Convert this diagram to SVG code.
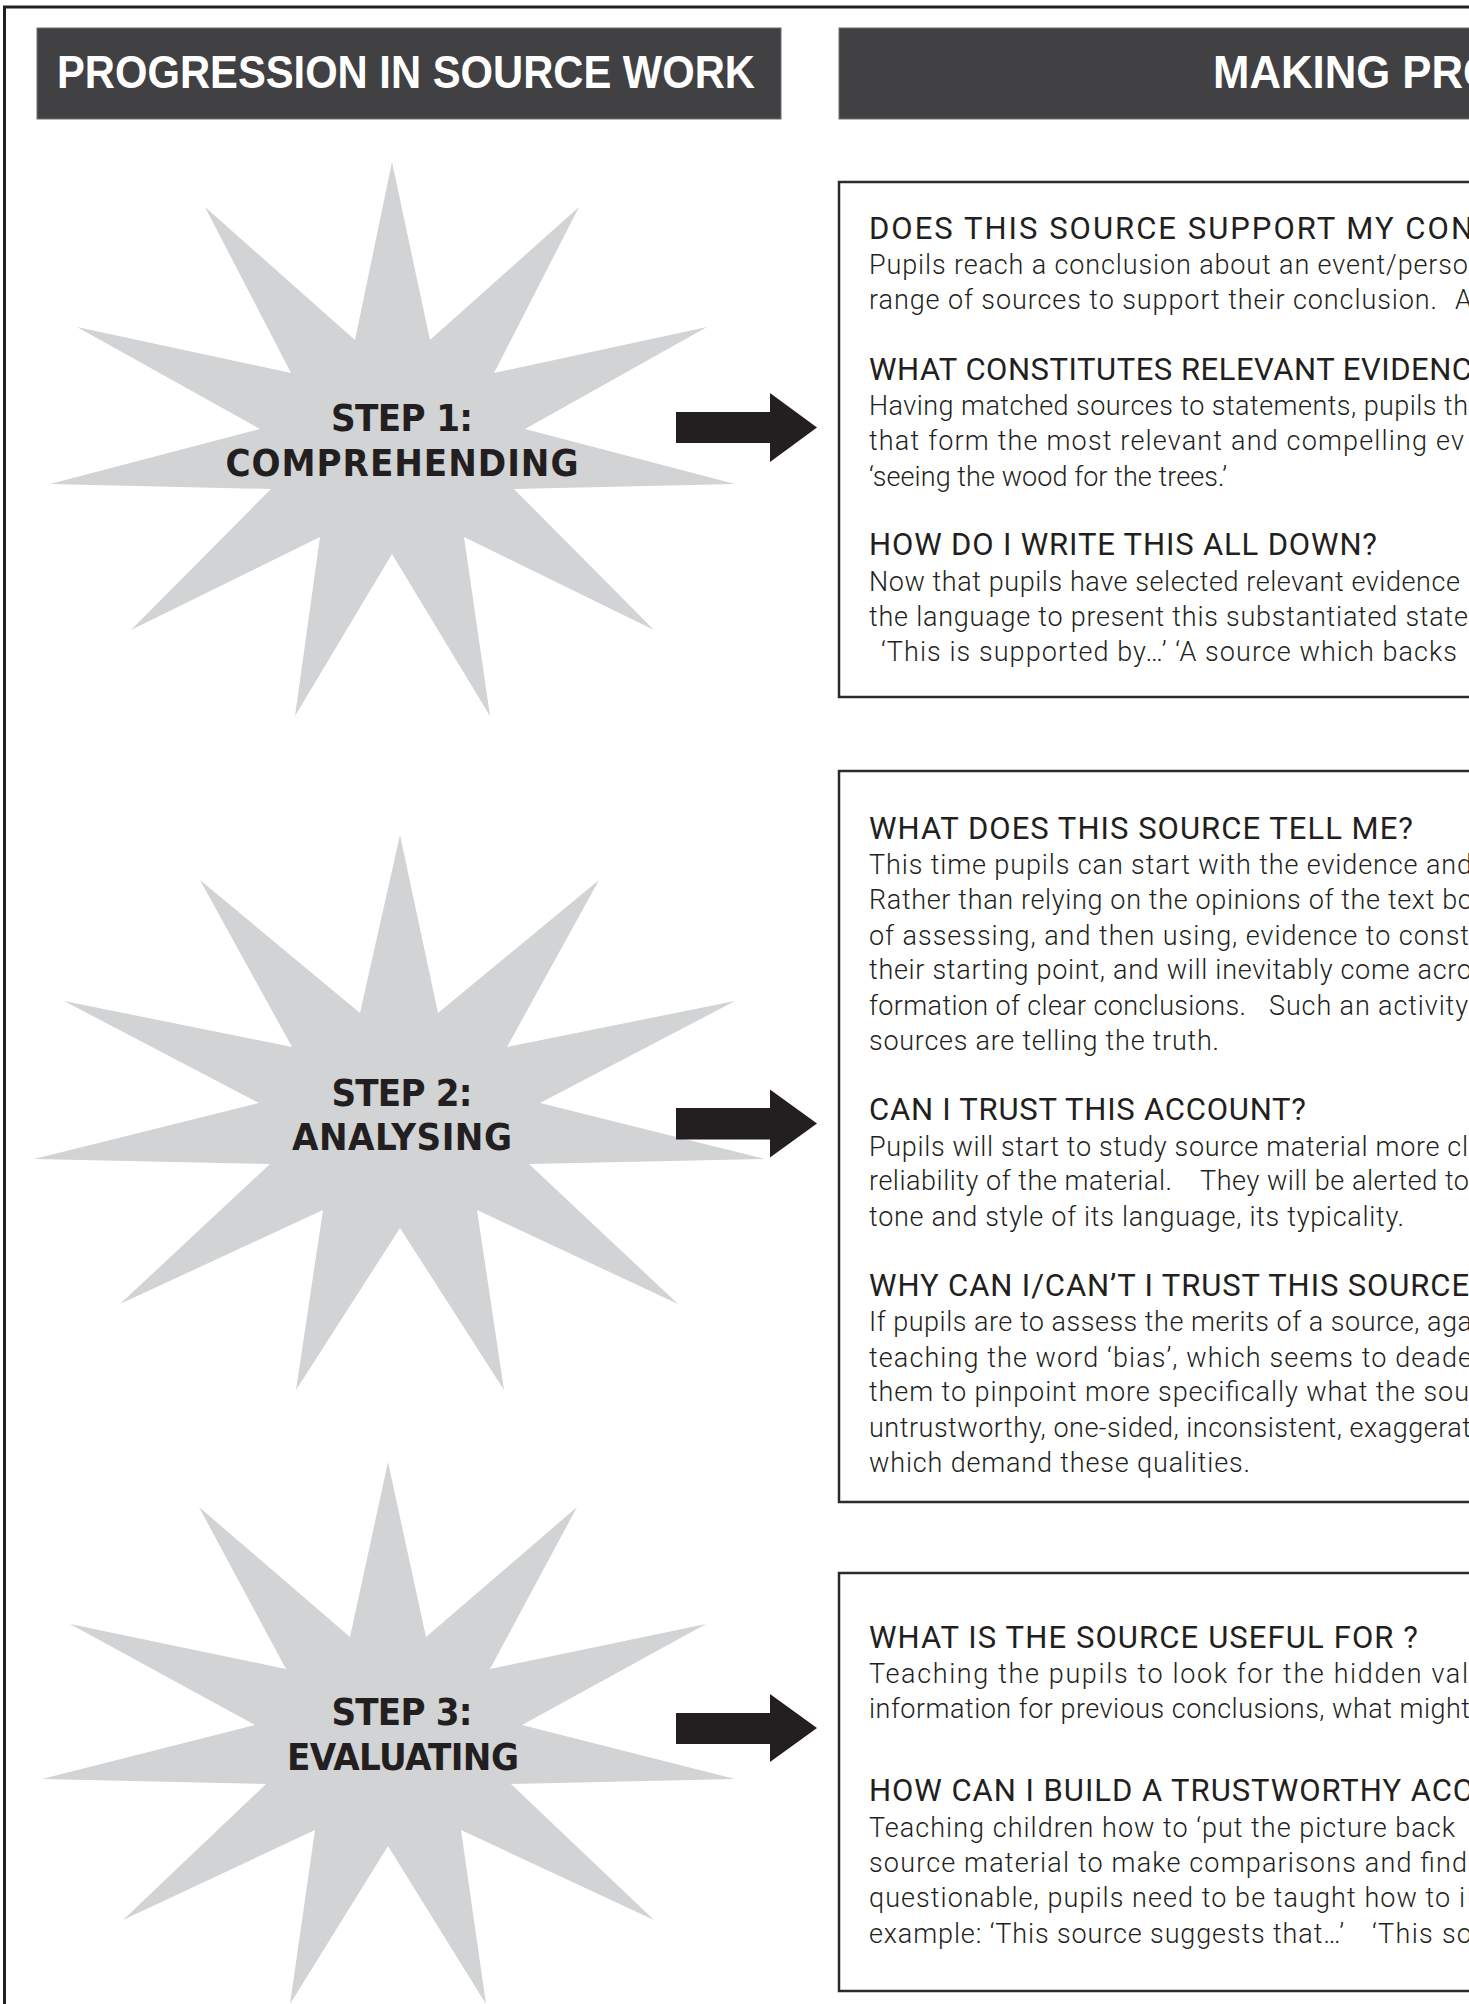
<svg xmlns="http://www.w3.org/2000/svg" width="1469" height="2004" viewBox="0 0 1469 2004">
<style>
.frame{fill:none;stroke:#231f20;stroke-width:3}
.hdr{fill:#414042;stroke:#6d6e71;stroke-width:1}
.hdrt{font-family:'Liberation Sans','Arial',sans-serif;font-weight:bold;font-size:46px;fill:#ffffff}
.star{fill:#d1d3d4}
.lbl{font-family:'DejaVu Sans Condensed','DejaVu Sans',sans-serif;font-weight:bold;font-size:38px;fill:#231f20;text-anchor:middle}
.box{fill:#ffffff;stroke:#2b2b2b;stroke-width:2.5}
.h{font-family:'Roboto','DejaVu Sans Condensed',sans-serif;font-weight:400;font-size:31px;fill:#231f20}
.b{font-family:'Roboto','DejaVu Sans Condensed',sans-serif;font-weight:300;font-size:27px;fill:#231f20}
.arrow{fill:#231f20}
</style>
<rect x="0" y="0" width="1469" height="2004" fill="#ffffff"/>
<rect class="frame" x="4.5" y="7" width="1520" height="2100"/>

<g id="header-left">
<rect class="hdr" x="37" y="28" width="744" height="91"/>
<text class="hdrt" x="57" y="88" textLength="698" lengthAdjust="spacingAndGlyphs">PROGRESSION IN SOURCE WORK</text>
</g>
<g id="header-right">
<rect class="hdr" x="839" y="28" width="700" height="91"/>
<text class="hdrt" x="1213" y="88" textLength="284" lengthAdjust="spacingAndGlyphs">MAKING PRO</text>
</g>

<g id="step1">
<polygon class="star" points="392,162 430,340 579,207 494,373 707,327 525,429 735,484 514,489 654,630 464,537 490,716 392,554 295,716 320,537 131,630 271,489 50,484 260,429 77,327 291,373 205,207 355,340"/>
<text class="lbl" x="402" y="431" textLength="142" lengthAdjust="spacing">STEP 1:</text>
<text class="lbl" x="402" y="476" textLength="353" lengthAdjust="spacing">COMPREHENDING</text>
</g>

<g id="step2">
<polygon class="star" points="400,835 438,1013 599,880 507,1047 735,1001 540,1103 765,1159 529,1164 678,1304 477,1210 504,1390 400,1228 296,1390 323,1210 120,1304 270,1164 34,1159 259,1103 64,1001 292,1047 200,880 360,1013"/>
<text class="lbl" x="402" y="1106" textLength="141" lengthAdjust="spacing">STEP 2:</text>
<text class="lbl" x="402" y="1150" textLength="220" lengthAdjust="spacing">ANALYSING</text>
</g>

<g id="step3">
<polygon class="star" points="388,1462 426,1637 577,1507 490,1669 706,1624 522,1725 735,1779 511,1784 654,1920 461,1830 486,2004 388,1846 290,2004 315,1830 123,1920 266,1784 42,1779 255,1725 70,1624 286,1669 199,1507 350,1637"/>
<text class="lbl" x="402" y="1725" textLength="141" lengthAdjust="spacing">STEP 3:</text>
<text class="lbl" x="403" y="1770" textLength="232" lengthAdjust="spacing">EVALUATING</text>
</g>

<g id="connectors">
<path class="arrow" d="M676,412 H770 V393 L817,427.5 L770,462 V443 H676 Z"/>
<path class="arrow" d="M676,1108 H770 V1089.5 L817,1123.5 L770,1157.5 V1139.5 H676 Z"/>
<path class="arrow" d="M676,1713 H770 V1694 L817,1728 L770,1762 V1744 H676 Z"/>
</g>

<g id="box1">
<rect class="box" x="839" y="182" width="700" height="515"/>
<text class="h" x="869" y="239" textLength="604" lengthAdjust="spacing">DOES THIS SOURCE SUPPORT MY CON</text>
<text class="b" x="869" y="274" textLength="599" lengthAdjust="spacing">Pupils reach a conclusion about an event/perso</text>
<text class="b" x="869" y="309" textLength="568" lengthAdjust="spacing">range of sources to support their conclusion.</text>
<text class="b" x="1455" y="309">A</text>
<text class="h" x="869" y="380" textLength="603" lengthAdjust="spacing">WHAT CONSTITUTES RELEVANT EVIDENC</text>
<text class="b" x="869" y="415" textLength="599" lengthAdjust="spacing">Having matched sources to statements, pupils th</text>
<text class="b" x="869" y="450" textLength="595" lengthAdjust="spacing">that form the most relevant and compelling ev</text>
<text class="b" x="869" y="486" textLength="358" lengthAdjust="spacing">‘seeing the wood for the trees.’</text>
<text class="h" x="869" y="555" textLength="508" lengthAdjust="spacing">HOW DO I WRITE THIS ALL DOWN?</text>
<text class="b" x="869" y="591" textLength="591" lengthAdjust="spacing">Now that pupils have selected relevant evidence</text>
<text class="b" x="869" y="626" textLength="599" lengthAdjust="spacing">the language to present this substantiated state</text>
<text class="b" x="881" y="661" textLength="576" lengthAdjust="spacing">‘This is supported by…’ ‘A source which backs</text>
</g>

<g id="box2">
<rect class="box" x="839" y="771" width="700" height="731"/>
<text class="h" x="869" y="839" textLength="544" lengthAdjust="spacing">WHAT DOES THIS SOURCE TELL ME?</text>
<text class="b" x="869" y="874" textLength="603" lengthAdjust="spacing">This time pupils can start with the evidence and</text>
<text class="b" x="869" y="909" textLength="604" lengthAdjust="spacing">Rather than relying on the opinions of the text bo</text>
<text class="b" x="869" y="945" textLength="600" lengthAdjust="spacing">of assessing, and then using, evidence to const</text>
<text class="b" x="869" y="979" textLength="603" lengthAdjust="spacing">their starting point, and will inevitably come acro</text>
<text class="b" x="869" y="1015" textLength="377" lengthAdjust="spacing">formation of clear conclusions.</text>
<text class="b" x="1269" y="1015" textLength="199" lengthAdjust="spacing">Such an activity</text>
<text class="b" x="869" y="1050" textLength="350" lengthAdjust="spacing">sources are telling the truth.</text>
<text class="h" x="869" y="1120" textLength="437" lengthAdjust="spacing">CAN I TRUST THIS ACCOUNT?</text>
<text class="b" x="869" y="1156" textLength="599" lengthAdjust="spacing">Pupils will start to study source material more cl</text>
<text class="b" x="869" y="1190" textLength="303" lengthAdjust="spacing">reliability of the material.</text>
<text class="b" x="1200" y="1190" textLength="269" lengthAdjust="spacing">They will be alerted to</text>
<text class="b" x="869" y="1226" textLength="535" lengthAdjust="spacing">tone and style of its language, its typicality.</text>
<text class="h" x="869" y="1296" textLength="600" lengthAdjust="spacing">WHY CAN I/CAN’T I TRUST THIS SOURCE</text>
<text class="b" x="869" y="1331" textLength="603" lengthAdjust="spacing">If pupils are to assess the merits of a source, aga</text>
<text class="b" x="869" y="1367" textLength="603" lengthAdjust="spacing">teaching the word ‘bias’, which seems to deade</text>
<text class="b" x="869" y="1401" textLength="600" lengthAdjust="spacing">them to pinpoint more specifically what the sou</text>
<text class="b" x="869" y="1437" textLength="602" lengthAdjust="spacing">untrustworthy, one-sided, inconsistent, exaggerat</text>
<text class="b" x="869" y="1472" textLength="381" lengthAdjust="spacing">which demand these qualities.</text>
</g>

<g id="box3">
<rect class="box" x="839" y="1573" width="700" height="418"/>
<text class="h" x="869" y="1648" textLength="549" lengthAdjust="spacing">WHAT IS THE SOURCE USEFUL FOR ?</text>
<text class="b" x="869" y="1683" textLength="599" lengthAdjust="spacing">Teaching the pupils to look for the hidden val</text>
<text class="b" x="869" y="1718" textLength="601" lengthAdjust="spacing">information for previous conclusions, what might</text>
<text class="h" x="869" y="1801" textLength="604" lengthAdjust="spacing">HOW CAN I BUILD A TRUSTWORTHY ACC</text>
<text class="b" x="869" y="1837" textLength="586" lengthAdjust="spacing">Teaching children how to ‘put the picture back</text>
<text class="b" x="869" y="1872" textLength="598" lengthAdjust="spacing">source material to make comparisons and find</text>
<text class="b" x="869" y="1907" textLength="596" lengthAdjust="spacing">questionable, pupils need to be taught how to i</text>
<text class="b" x="869" y="1943" textLength="475" lengthAdjust="spacing">example: ‘This source suggests that…’</text>
<text class="b" x="1372" y="1943" textLength="100" lengthAdjust="spacing">‘This so</text>
</g>
</svg>
